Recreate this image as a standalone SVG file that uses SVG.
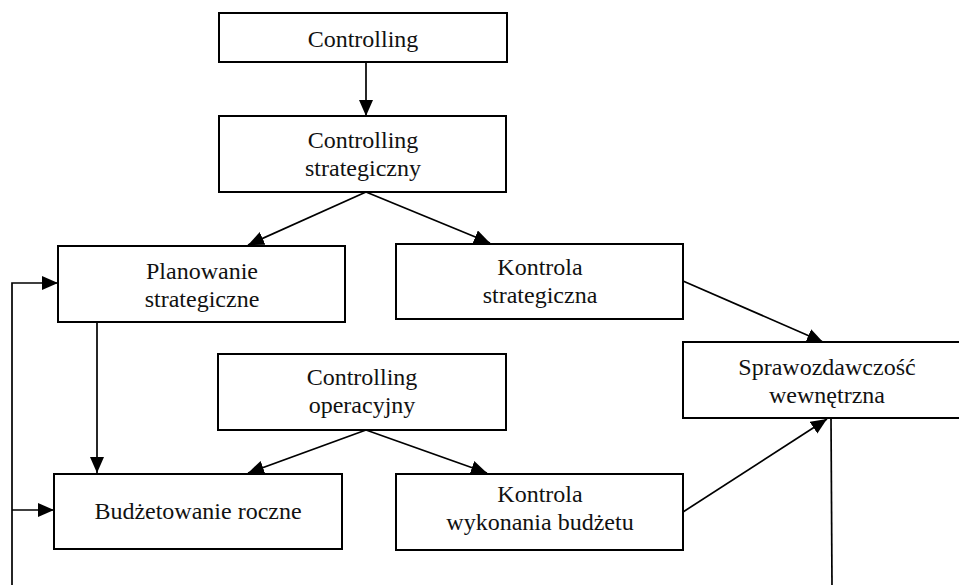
<svg xmlns="http://www.w3.org/2000/svg" width="959" height="585" viewBox="0 0 959 585">
<style>
.box{fill:#fff;stroke:#000;stroke-width:2}
text{font-family:'Liberation Serif','Times New Roman',serif;font-size:24px;fill:#111;text-anchor:middle}
.c{fill:none;stroke:#000;stroke-width:1.7}
</style>
<defs>
<marker id="ah" markerUnits="userSpaceOnUse" markerWidth="18" markerHeight="16" refX="16" refY="7" orient="auto">
<path d="M0,0 L16,7 L0,14 z" fill="#000"/>
</marker>
</defs>
<rect width="959" height="585" fill="#fff"/>
<g id="connectors">
<line class="c" x1="366" y1="62" x2="366" y2="116" marker-end="url(#ah)"/>
<line class="c" x1="366" y1="192" x2="248" y2="245" marker-end="url(#ah)"/>
<line class="c" x1="366" y1="192" x2="490" y2="243" marker-end="url(#ah)"/>
<line class="c" x1="97" y1="322" x2="97" y2="473" marker-end="url(#ah)"/>
<polyline class="c" points="12,585 12,283 58,283" marker-end="url(#ah)"/>
<line class="c" x1="12" y1="510" x2="54" y2="510" marker-end="url(#ah)"/>
<line class="c" x1="366" y1="430" x2="248" y2="473" marker-end="url(#ah)"/>
<line class="c" x1="366" y1="430" x2="487" y2="473" marker-end="url(#ah)"/>
<line class="c" x1="683" y1="281" x2="823" y2="342" marker-end="url(#ah)"/>
<line class="c" x1="683" y1="512" x2="827" y2="419" marker-end="url(#ah)"/>
<line class="c" x1="831" y1="419" x2="832" y2="585"/>
</g>
<g id="controlling">
<rect class="box" x="219" y="13" width="288" height="49"/>
<text x="363" y="47">Controlling</text>
</g>
<g id="controlling-strategiczny">
<rect class="box" x="219" y="116" width="287" height="76"/>
<text x="363" y="148">Controlling</text>
<text x="363" y="176">strategiczny</text>
</g>
<g id="planowanie-strategiczne">
<rect class="box" x="58" y="246" width="287" height="76"/>
<text x="202" y="279">Planowanie</text>
<text x="202" y="307">strategiczne</text>
</g>
<g id="kontrola-strategiczna">
<rect class="box" x="396" y="244" width="287" height="75"/>
<text x="540" y="275">Kontrola</text>
<text x="540" y="303">strategiczna</text>
</g>
<g id="sprawozdawczosc">
<rect class="box" x="683" y="342" width="290" height="76"/>
<text x="827" y="375">Sprawozdawczość</text>
<text x="827" y="403">wewnętrzna</text>
</g>
<g id="controlling-operacyjny">
<rect class="box" x="218" y="354" width="288" height="76"/>
<text x="362" y="385">Controlling</text>
<text x="362" y="413">operacyjny</text>
</g>
<g id="budzetowanie">
<rect class="box" x="54" y="474" width="288" height="75"/>
<text x="198" y="519">Budżetowanie roczne</text>
</g>
<g id="kontrola-wykonania">
<rect class="box" x="396" y="474" width="287" height="76"/>
<text x="540" y="502">Kontrola</text>
<text x="540" y="530">wykonania budżetu</text>
</g>
</svg>
